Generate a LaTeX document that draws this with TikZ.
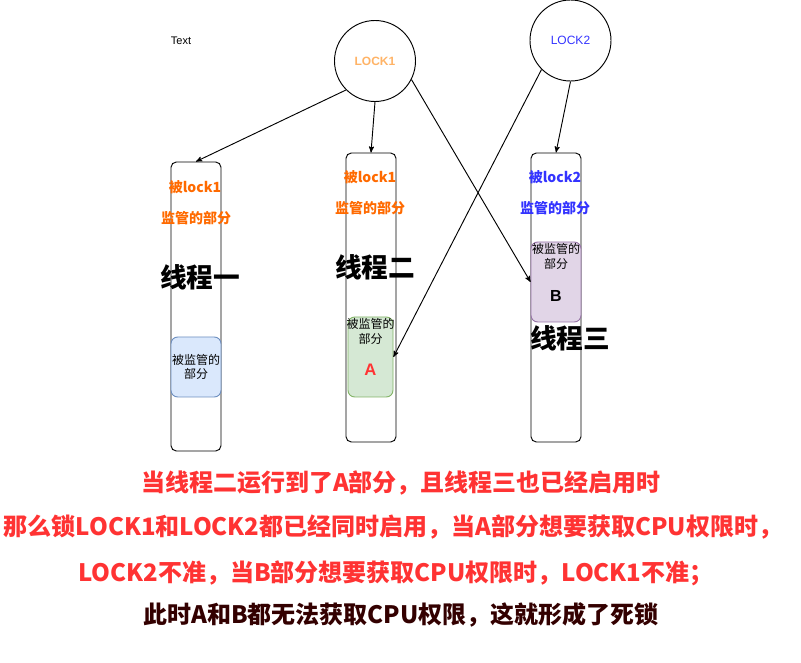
\documentclass[tikz,border=0pt]{standalone}
\usepackage{fontspec}
\setmainfont{Liberation Sans}
\newfontfamily\cjk{Noto Sans CJK SC}
\usetikzlibrary{arrows,positioning}
\definecolor{lockorange}{HTML}{FFB366}
\definecolor{labelorange}{HTML}{FF6A00}
\definecolor{lockblue}{HTML}{3333FF}
\definecolor{notered}{HTML}{FF3333}
\definecolor{notedark}{HTML}{330000}
\definecolor{bluefill}{HTML}{DAE8FC}
\definecolor{bluedraw}{HTML}{6C8EBF}
\definecolor{greenfill}{HTML}{D5E8D4}
\definecolor{greendraw}{HTML}{82B366}
\definecolor{purplefill}{HTML}{E1D5E7}
\definecolor{purpledraw}{HTML}{9673A6}

\begin{document}
\begin{tikzpicture}[x=0.75pt,y=-0.75pt,>=stealth',line width=0.7pt,
	lock/.style={draw,circle,minimum size=60.75pt,inner sep=0pt,font=\fontsize{9}{11}\selectfont},
	thread/.style={draw,rounded corners=4pt,minimum width=37.5pt,minimum height=216.75pt,inner sep=0pt},
	part/.style={draw,rounded corners=5pt,minimum width=37.5pt,minimum height=60pt,inner sep=0pt},
	parttext/.style={align=center,inner sep=1pt,font=\cjk\fontsize{9}{11}\selectfont},
	watch/.style={font=\cjk\bfseries\fontsize{10.5}{12}\selectfont},
	threadname/.style={font=\cjk\bfseries\fontsize{20}{24}\selectfont},
	note/.style={font=\cjk\bfseries\fontsize{18}{21}\selectfont,text=notered}]

	\useasboundingbox (0,0) rectangle (801,663);

	\node (hint) at (181,41) {\fontsize{8.25}{10}\selectfont Text};
	\node[lock,text=lockorange,font=\bfseries\fontsize{9}{11}\selectfont] (lock1) at (375,61) {LOCK1};
	\node[lock,text=lockblue] (lock2) at (570.5,40.5) {LOCK2};

	\node[thread] (t1) at (196,306.5) {};
	\node[thread] (t2) at (371,297.5) {};
	\node[thread] (t3) at (556,297.5) {};

	\node[part,fill=bluefill,draw=bluedraw,minimum height=45pt] (partone) at (196,367) {};
	\node[part,fill=greenfill,draw=greendraw,minimum width=33.75pt] (partA) at (370.5,357) {};
	\node[part,fill=purplefill,draw=purpledraw] (partB) at (556,282) {};

	\node[parttext] (partonetext) at (partone) {被监管的\\部分};
	\node[parttext,below=0pt of partA.north] (partAtext) {被监管的\\部分};
	\node[text=notered,font=\bfseries\fontsize{12.5}{14}\selectfont] (markA) at (370.5,370) {A};
	\node[parttext,below=0pt of partB.north] (partBtext) {被监管的\\部分};
	\node[font=\bfseries\fontsize{12}{14}\selectfont] (markB) at (556,296) {B};

	\node[watch,text=labelorange] (w1a) at (195,187) {被lock1};
	\node[watch,text=labelorange] (w1b) at (196,218) {监管的部分};
	\node[watch,text=labelorange] (w2a) at (370,177) {被lock1};
	\node[watch,text=labelorange] (w2b) at (370,208) {监管的部分};
	\node[watch,text=lockblue] (w3a) at (555,177) {被lock2};
	\node[watch,text=lockblue] (w3b) at (555,208) {监管的部分};

	\node[threadname] (name1) at (200,277) {线程一};
	\node[threadname] (name2) at (375,267) {线程二};
	\node[threadname] (name3) at (570,338) {线程三};

	\draw[->] (lock1.225) -- (t1.north);
	\draw[->] (lock1.south) -- (t2.north);
	\draw[->] (lock1.-27) -- (partB.west);
	\draw[->] (lock2.225) -- (partA.east);
	\draw[->] (lock2.south) -- (t3.north);

	\node[note] (line1) at (401,483) {当线程二运行到了A部分，且线程三也已经启用时};
	\node[note] (line2) at (393,527) {那么锁LOCK1和LOCK2都已经同时启用，当A部分想要获取CPU权限时，};
	\node[note] (line3) at (396,573) {LOCK2不准，当B部分想要获取CPU权限时，LOCK1不准；};
	\node[note,text=notedark] (line4) at (401,615) {此时A和B都无法获取CPU权限，这就形成了死锁};

\end{tikzpicture}
\end{document}
